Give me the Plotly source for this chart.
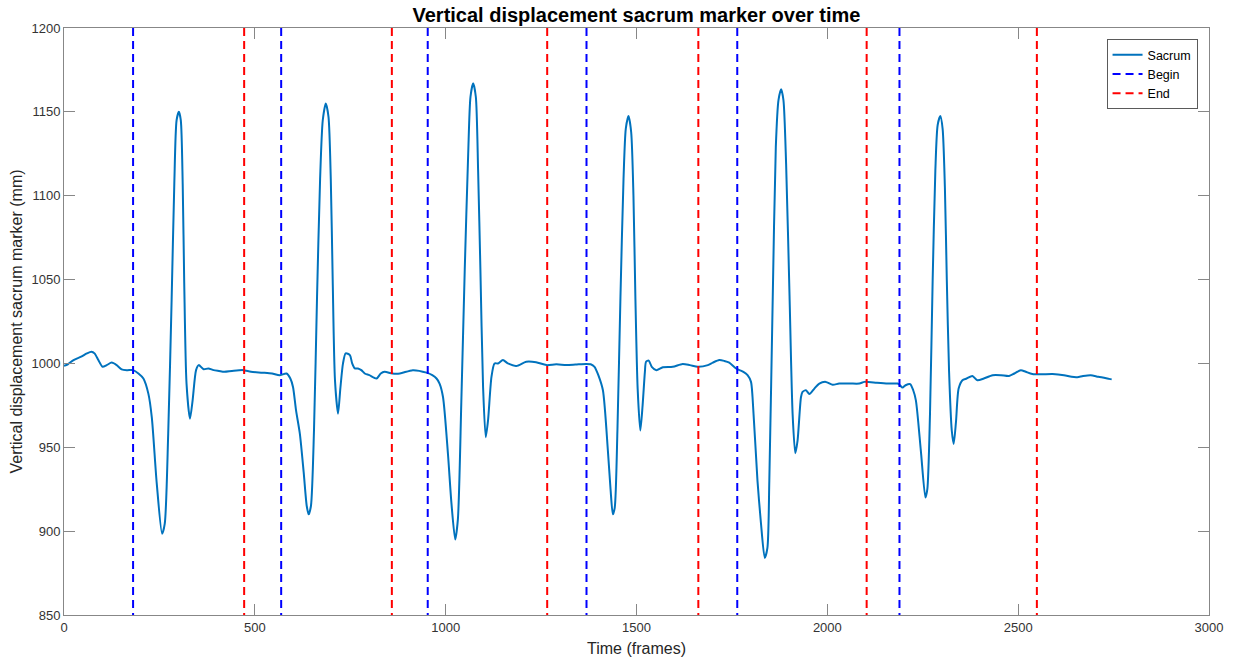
import plotly.graph_objects as go

# Sacrum vertical displacement (frames, mm)
frames = [0, 10, 25, 45, 60, 72, 80, 90, 101, 112, 125, 138, 151, 165, 181, 195, 208, 221, 230, 243,
          257, 264, 273, 282, 289, 295, 301, 306, 311, 315, 321, 330, 337, 346, 353, 366, 378, 392, 406,
          420, 440, 469, 490, 520, 545, 565, 583, 593, 600, 608, 618, 628, 636, 641, 647, 655, 663, 671,
          678, 686, 693, 699, 704, 710, 718, 724, 731, 738, 749, 755, 762, 770, 779, 788, 800, 819, 830,
          840, 860, 880, 914, 950, 965, 976, 984, 993, 1006, 1015, 1025, 1032, 1041, 1050, 1059, 1065,
          1072, 1079, 1085, 1091, 1098, 1105, 1111, 1120, 1128, 1137, 1150, 1163, 1185, 1211, 1237, 1264,
          1290, 1316, 1340, 1368, 1380, 1390, 1400, 1412, 1425, 1432, 1438, 1443, 1450, 1458, 1466, 1472,
          1479, 1486, 1492, 1497, 1503, 1510, 1516, 1522, 1525, 1532, 1540, 1552, 1569, 1595, 1621, 1640,
          1661, 1687, 1700, 1717, 1730, 1743, 1761, 1770, 1780, 1791, 1800, 1804, 1817, 1826, 1836, 1843,
          1848, 1857, 1865, 1872, 1879, 1885, 1892, 1901, 1909, 1916, 1922, 1931, 1935, 1944, 1953, 1966,
          1979, 1996, 2014, 2031, 2060, 2084, 2097, 2130, 2162, 2184, 2190, 2197, 2205, 2217, 2225, 2232,
          2245, 2257, 2262, 2269, 2276, 2283, 2289, 2296, 2302, 2308, 2313, 2319, 2326, 2331, 2337, 2344,
          2354, 2365, 2380, 2393, 2410, 2433, 2455, 2476, 2490, 2507, 2520, 2537, 2560, 2590, 2620, 2640,
          2655, 2670, 2690, 2710, 2738, 2745]
sacrum = [998.5, 999.5, 1002, 1004, 1006, 1007, 1006, 1002, 998, 999, 1000.5, 999, 996.5, 996, 996, 994,
          991, 982, 968, 928.5, 898.5, 904.5, 958, 1038, 1107, 1145, 1150, 1145, 1107, 1048, 988, 967,
          978, 996, 999, 996.5, 997, 996, 995.5, 995, 995.5, 996, 995, 994.5, 994, 993, 994, 991, 986,
          972, 958, 935, 915, 910, 915, 960, 1040, 1110, 1145, 1155, 1147, 1110, 1050, 990, 970, 985,
          1000, 1006, 1005, 1000, 997, 997, 996, 994, 993, 991, 994, 995, 994, 994, 996, 994.5, 993, 991,
          988, 980, 946, 917, 895, 907, 977, 1056, 1125, 1159, 1167, 1159, 1115, 1056, 986, 956, 966, 992,
          1000, 1000, 1002, 1000, 998.5, 1001, 1000.7, 999, 999.5, 999, 999.3, 999.7, 999.5, 998, 993,
          984, 948, 925, 910, 914, 960, 1040, 1110, 1140, 1147.5, 1138, 1100, 1040, 985, 960, 975, 995,
          1001, 1001.7, 998, 996, 997.7, 998, 999.7, 999, 998, 999, 1000.5, 1002, 1001.5, 1000.5, 997,
          996, 995, 993, 989, 980, 930, 905, 884, 890, 930, 1040, 1129, 1157, 1163.5, 1157, 1119, 1040,
          970, 946.5, 954, 980, 983, 984, 981.7, 985, 988, 989, 987.3, 988, 988, 988, 989, 988.5, 988,
          988, 987, 985.6, 987, 987.7, 984, 978, 948, 920, 925, 970, 1050, 1115, 1142, 1147.5, 1140, 1105,
          1050, 995, 960, 952, 965, 985, 990, 991, 992.5, 990, 991, 993, 993, 992.5, 994, 996, 995, 993.7,
          993.5, 993.7, 993, 992, 991.8, 992.5, 993, 992, 990.8, 990.5]

begin_frames = [181, 569, 953, 1369, 1764, 2189]
end_frames = [472, 859, 1266, 1662, 2103, 2549]

y_range = [850, 1200]
x_range = [0, 3000]
x_ticks = [0, 500, 1000, 1500, 2000, 2500, 3000]
y_ticks = [850, 900, 950, 1000, 1050, 1100, 1150, 1200]


def vlines(xs):
    vx, vy = [], []
    for v in xs:
        vx += [v, v, None]
        vy += [y_range[1], y_range[0], None]
    return vx, vy


FONT = "Liberation Sans, Arial, Helvetica, sans-serif"

fig = go.Figure()
fig.add_trace(go.Scatter(x=frames, y=sacrum, mode="lines", name="Sacrum",
                         line=dict(color="#0072BD", width=2, shape="spline", smoothing=0.7)))
bx, by = vlines(begin_frames)
fig.add_trace(go.Scatter(x=bx, y=by, mode="lines", name="Begin",
                         line=dict(color="#0000FF", width=2, dash="8px,5px")))
ex, ey = vlines(end_frames)
fig.add_trace(go.Scatter(x=ex, y=ey, mode="lines", name="End",
                         line=dict(color="#FF0000", width=2, dash="8px,5px")))

axis_common = dict(showline=True, linecolor="#878787", linewidth=1, mirror="ticks",
                   ticks="inside", ticklen=11, tickcolor="#878787", tickwidth=1,
                   showgrid=False, zeroline=False, automargin=False,
                   tickfont=dict(family=FONT, size=13, color="#333333"))

fig.update_layout(
    width=1233, height=659,
    margin=dict(l=64, r=24, t=28, b=44),
    paper_bgcolor="white", plot_bgcolor="white",
    title=dict(text="<b>Vertical displacement sacrum marker over time</b>",
               x=0.5, xref="paper", xanchor="center",
               y=1 - 15 / 659, yref="container", yanchor="middle",
               font=dict(family=FONT, size=20, color="black")),
    xaxis=dict(range=x_range, tickvals=x_ticks, **axis_common,
               title=dict(text="Time (frames)", standoff=9,
                          font=dict(family=FONT, size=16, color="#262626"))),
    yaxis=dict(range=y_range, tickvals=y_ticks, **axis_common,
               title=dict(text="Vertical displacement sacrum marker (mm)", standoff=4,
                          font=dict(family=FONT, size=16, color="#262626"))),
    legend=dict(x=0.99, y=0.981, xanchor="right", yanchor="top",
                bgcolor="white", bordercolor="#5a5a5a", borderwidth=1,
                font=dict(family=FONT, size=12.5, color="black"),
                tracegroupgap=0, itemwidth=30),
    showlegend=True,
)

fig.write_html("out.html")
